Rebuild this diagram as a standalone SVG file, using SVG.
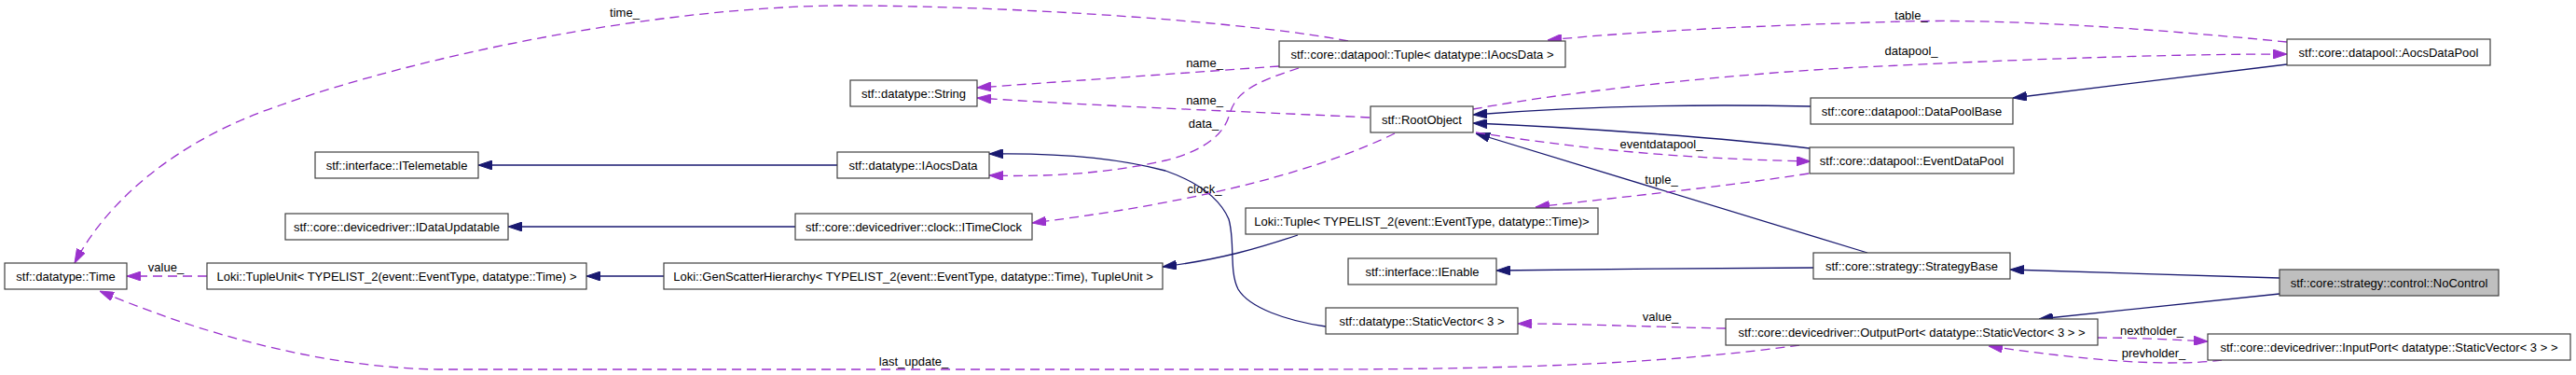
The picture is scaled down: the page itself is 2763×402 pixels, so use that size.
<svg xmlns="http://www.w3.org/2000/svg" width="2763" height="402" viewBox="0 0 2763 402">
<style>
.n rect{fill:#ffffff;stroke:#404040;stroke-width:1.2}
.n text,.lbl{font-family:"Liberation Sans",Arial,sans-serif;font-size:13px;fill:#000000;text-anchor:middle}
.inh{fill:none;stroke:#191970;stroke-width:1.3}
.use{fill:none;stroke:#9a32cd;stroke-width:1.3;stroke-dasharray:10,6}
</style>
<defs>
<marker id="ah" viewBox="0 0 15 10" refX="15" refY="5" markerWidth="15" markerHeight="10" markerUnits="userSpaceOnUse" orient="auto"><polygon points="0,0 15,5 0,10" fill="#191970" stroke="#191970"/></marker>
<marker id="ap" viewBox="0 0 15 10" refX="15" refY="5" markerWidth="15" markerHeight="10" markerUnits="userSpaceOnUse" orient="auto"><polygon points="0,0 15,5 0,10" fill="#9a32cd" stroke="#9a32cd"/></marker>
</defs>
<rect width="2763" height="402" fill="#ffffff"/>
<g id="connectors">
<path class="inh" marker-end="url(#ah)" d="M898,177 L513,177"/>
<path class="inh" marker-end="url(#ah)" d="M853,243 L545,243"/>
<path class="inh" marker-end="url(#ah)" d="M712,296 L629,296"/>
<path class="inh" marker-end="url(#ah)" d="M1392,252 C1350,266 1310,278 1247,286"/>
<path class="inh" marker-end="url(#ah)" d="M1422,350 C1380,344 1340,330 1328,310 C1318,290 1325,260 1318,235 C1305,205 1270,190 1250,183 C1190,167 1120,164 1061,165"/>
<path class="inh" marker-end="url(#ah)" d="M1942,114 C1850,112 1720,112 1580,123"/>
<path class="inh" marker-end="url(#ah)" d="M1941,159 C1850,148 1700,137 1580,132"/>
<path class="inh" marker-end="url(#ah)" d="M2003,271 L1583,143"/>
<path class="inh" marker-end="url(#ah)" d="M1945,287 C1850,287 1700,289 1605,290"/>
<path class="inh" marker-end="url(#ah)" d="M2453,69 L2159,105"/>
<path class="inh" marker-end="url(#ah)" d="M2445,298 L2156,289"/>
<path class="inh" marker-end="url(#ah)" d="M2445,315 L2187,342"/>
<path class="use" marker-end="url(#ap)" d="M1446,44 C1350,25 1100,6 900,6 C700,8 450,60 300,113 C190,150 115,215 80,282"/>
<text class="lbl" x="670" y="18">time_</text>
<path class="use" marker-end="url(#ap)" d="M2453,45 C2300,30 2150,20 2040,23 C1900,27 1760,33 1660,43"/>
<text class="lbl" x="2050" y="21">table_</text>
<path class="use" marker-end="url(#ap)" d="M1580,117 C1700,95 1900,75 2040,70 C2200,62 2350,58 2453,58"/>
<text class="lbl" x="2050" y="59">datapool_</text>
<path class="use" marker-end="url(#ap)" d="M1372,71 L1048,94"/>
<text class="lbl" x="1292" y="72">name_</text>
<path class="use" marker-end="url(#ap)" d="M1469,126 C1350,120 1200,115 1048,105"/>
<text class="lbl" x="1292" y="112">name_</text>
<path class="use" marker-end="url(#ap)" d="M1393,73 C1340,90 1325,100 1318,125 C1310,150 1280,165 1250,172 C1190,186 1120,190 1061,188"/>
<text class="lbl" x="1291" y="137">data_</text>
<path class="use" marker-end="url(#ap)" d="M1496,143 C1420,180 1300,215 1107,239"/>
<text class="lbl" x="1292" y="207">clock_</text>
<path class="use" marker-end="url(#ap)" d="M1583,142 C1700,160 1800,170 1942,173"/>
<text class="lbl" x="1782" y="159">eventdatapool_</text>
<path class="use" marker-end="url(#ap)" d="M1940,186 C1850,200 1750,210 1647,222"/>
<text class="lbl" x="1782" y="197">tuple_</text>
<path class="use" marker-end="url(#ap)" d="M222,296 L136,296"/>
<text class="lbl" x="178" y="291">value_</text>
<path class="use" marker-end="url(#ap)" d="M1851,352 C1750,350 1700,347 1628,347"/>
<text class="lbl" x="1781" y="344">value_</text>
<path class="use" marker-end="url(#ap)" d="M1930,370 C1800,388 1650,396 1400,396 L470,396 C350,394 220,360 107,312"/>
<text class="lbl" x="980" y="392">last_update_</text>
<path class="use" marker-end="url(#ap)" d="M2250,362 C2290,362 2330,364 2368,366"/>
<text class="lbl" x="2308" y="359">nextholder_</text>
<path class="use" marker-end="url(#ap)" d="M2383,386 C2320,394 2230,385 2133,371"/>
<text class="lbl" x="2310" y="383">prevholder_</text>
</g>
<g id="n_time" class="n"><rect x="5" y="282" width="131" height="28"/><text x="70.5" y="301">stf::datatype::Time</text></g>
<g id="n_tupleunit" class="n"><rect x="222" y="282" width="407" height="28"/><text x="425.5" y="301">Loki::TupleUnit&lt; TYPELIST_2(event::EventType, datatype::Time) &gt;</text></g>
<g id="n_genscatter" class="n"><rect x="712" y="282" width="535" height="28"/><text x="979.5" y="301">Loki::GenScatterHierarchy&lt; TYPELIST_2(event::EventType, datatype::Time), TupleUnit &gt;</text></g>
<g id="n_itelemetable" class="n"><rect x="338" y="163" width="175" height="28"/><text x="425.5" y="182">stf::interface::ITelemetable</text></g>
<g id="n_idataupdatable" class="n"><rect x="306" y="229" width="239" height="28"/><text x="425.5" y="248">stf::core::devicedriver::IDataUpdatable</text></g>
<g id="n_string" class="n"><rect x="912" y="86" width="136" height="28"/><text x="980" y="105">stf::datatype::String</text></g>
<g id="n_iaocsdata" class="n"><rect x="898" y="163" width="163" height="28"/><text x="979.5" y="182">stf::datatype::IAocsData</text></g>
<g id="n_itimeclock" class="n"><rect x="853" y="229" width="254" height="28"/><text x="980" y="248">stf::core::devicedriver::clock::ITimeClock</text></g>
<g id="n_tupleiaocs" class="n"><rect x="1372" y="44" width="307" height="28"/><text x="1525.5" y="63">stf::core::datapool::Tuple&lt; datatype::IAocsData &gt;</text></g>
<g id="n_rootobject" class="n"><rect x="1470" y="114" width="110" height="28"/><text x="1525" y="133">stf::RootObject</text></g>
<g id="n_lokituple" class="n"><rect x="1336" y="223" width="378" height="28"/><text x="1525" y="242">Loki::Tuple&lt; TYPELIST_2(event::EventType, datatype::Time)&gt;</text></g>
<g id="n_ienable" class="n"><rect x="1446" y="277" width="159" height="28"/><text x="1525.5" y="296">stf::interface::IEnable</text></g>
<g id="n_staticvector" class="n"><rect x="1422" y="330" width="206" height="28"/><text x="1525" y="349">stf::datatype::StaticVector&lt; 3 &gt;</text></g>
<g id="n_datapoolbase" class="n"><rect x="1942" y="105" width="217" height="28"/><text x="2050.5" y="124">stf::core::datapool::DataPoolBase</text></g>
<g id="n_eventdatapool" class="n"><rect x="1941" y="158" width="219" height="28"/><text x="2050.5" y="177">stf::core::datapool::EventDataPool</text></g>
<g id="n_strategybase" class="n"><rect x="1945" y="271" width="211" height="28"/><text x="2050.5" y="290">stf::core::strategy::StrategyBase</text></g>
<g id="n_outputport" class="n"><rect x="1851" y="342" width="399" height="28"/><text x="2050.5" y="361">stf::core::devicedriver::OutputPort&lt; datatype::StaticVector&lt; 3 &gt; &gt;</text></g>
<g id="n_aocsdatapool" class="n"><rect x="2453" y="42" width="218" height="28"/><text x="2562" y="61">stf::core::datapool::AocsDataPool</text></g>
<g id="n_nocontrol" class="n"><rect x="2445" y="289" width="235" height="28" style="fill:#bfbfbf"/><text x="2562.5" y="308">stf::core::strategy::control::NoControl</text></g>
<g id="n_inputport" class="n"><rect x="2368" y="358" width="389" height="28"/><text x="2562.5" y="377">stf::core::devicedriver::InputPort&lt; datatype::StaticVector&lt; 3 &gt; &gt;</text></g>
</svg>
